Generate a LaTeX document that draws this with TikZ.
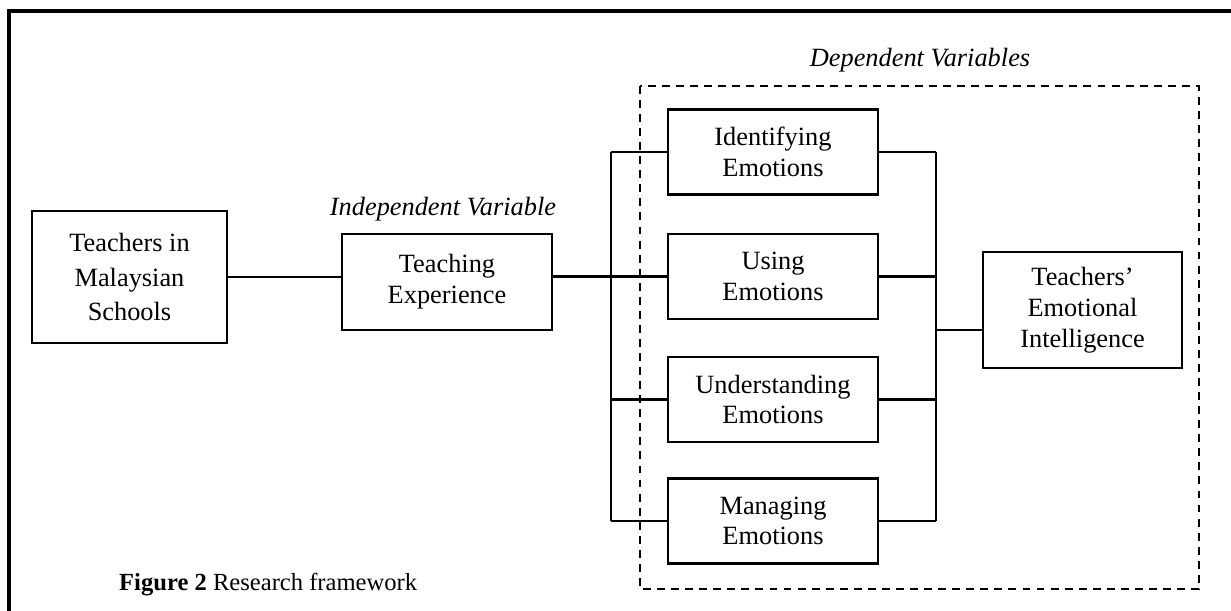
\documentclass[tikz,border=0pt]{standalone}
\usepackage{fontspec}
\setmainfont{Liberation Serif}

\begin{document}
\begin{tikzpicture}[x=0.02cm, y=-0.02cm,
        box/.style={draw, line width=1.3pt, align=center, inner sep=0pt,
            font=\fontsize{15}{17.5}\selectfont},
        link/.style={line width=1.3pt},
        tag/.style={font=\fontsize{15}{17.5}\selectfont\itshape}]
    \useasboundingbox (0,0) rectangle (1231,611);

    % frame round the figure
    \draw[line width=1.8pt] (9,660) -- (9,11) -- (1280,11);

    % dependent variables group
    \draw[line width=1.3pt, dash pattern=on 4.5pt off 3.5pt] (640,86) rectangle (1199,589);
    \node[tag] (deplabel) at (920,60) {Dependent Variables};

    % boxes
    \node[box, minimum width=3.9cm, minimum height=2.64cm, font=\fontsize{15}{19.5}\selectfont] (school) at (129.5,277) {Teachers in\\Malaysian\\Schools};
    \node[box, minimum width=4.2cm, minimum height=1.92cm] (exper) at (447,282) {Teaching\\Experience};
    \node[tag] (indlabel) at (443,209) {Independent Variable};

    \node[box, minimum width=4.2cm, minimum height=1.7cm] (ident) at (773,152) {Identifying\\Emotions};
    \node[box, minimum width=4.2cm, minimum height=1.7cm] (using) at (773,276.5) {Using\\Emotions};
    \node[box, minimum width=4.2cm, minimum height=1.7cm] (under) at (773,399.5) {Understanding\\Emotions};
    \node[box, minimum width=4.2cm, minimum height=1.7cm] (manag) at (773,521) {Managing\\Emotions};

    \node[box, minimum width=3.98cm, minimum height=2.32cm] (tei) at (1082.5,310) {Teachers'\\Emotional\\Intelligence};

    % bus lines
    \coordinate (lbus) at (611,0);
    \coordinate (rbus) at (936,0);
    \coordinate (tin) at (936,330);

    \draw[link] (school.east) -- (school.east -| exper.west);
    \draw[link] (using.west -| exper.east) -- (using.west);
    \draw[link] (ident.west -| lbus) -- (manag.west -| lbus);
    \draw[link] (ident.east -| rbus) -- (manag.east -| rbus);
    \foreach \b in {ident, under, manag} {
        \draw[link] (\b.west -| lbus) -- (\b.west);
    }
    \foreach \b in {ident, using, under, manag} {
        \draw[link] (\b.east) -- (\b.east -| rbus);
    }
    \draw[link] (tin) -- (tin -| tei.west);

    % caption
    \node[anchor=west, font=\fontsize{14}{16}\selectfont] (caption) at (113,585) {\textbf{Figure 2} Research framework};
\end{tikzpicture}
\end{document}
